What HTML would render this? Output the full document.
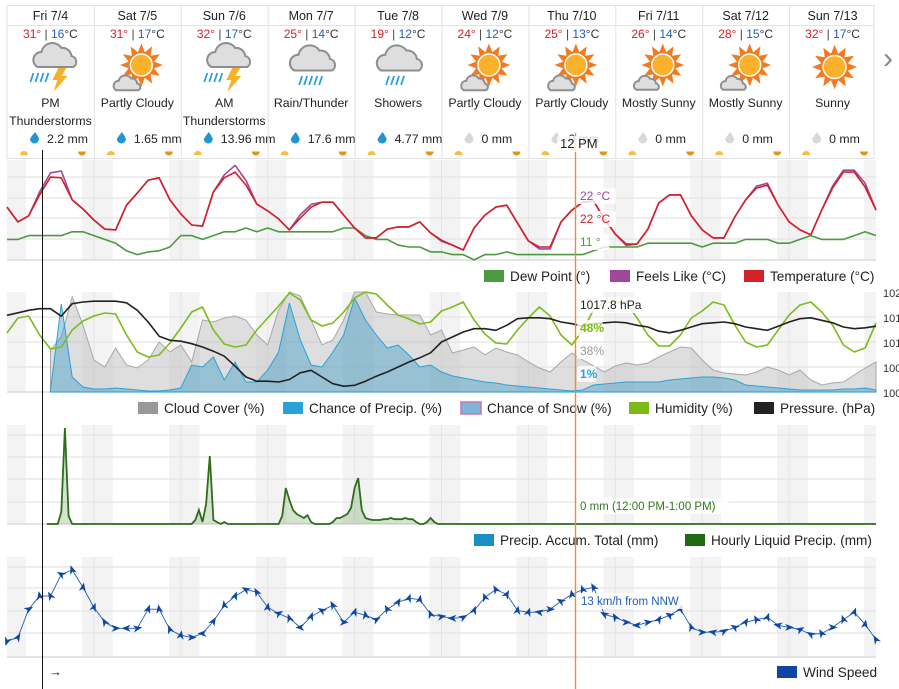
<!DOCTYPE html>
<html><head><meta charset="utf-8">
<style>
html,body{margin:0;padding:0;background:#fff;}
svg{display:block;font-family:"Liberation Sans",sans-serif;}
</style></head>
<body>
<svg id="root" width="899" height="689" viewBox="0 0 899 689" xmlns="http://www.w3.org/2000/svg"></svg>
<script>
// ---------- DATA ----------
const dayLabels = ["Fri 7/4","Sat 7/5","Sun 7/6","Mon 7/7","Tue 7/8","Wed 7/9","Thu 7/10","Fri 7/11","Sat 7/12","Sun 7/13"];
const dayHighs = [31,31,32,25,19,24,25,26,28,32];
const dayLows = [16,17,17,14,12,12,13,14,15,17];
const dayDescs = [["PM","Thunderstorms"],["Partly Cloudy"],["AM","Thunderstorms"],["Rain/Thunder"],["Showers"],["Partly Cloudy"],["Partly Cloudy"],["Mostly Sunny"],["Mostly Sunny"],["Sunny"]];
const dayPrecip = ["2.2","1.65","13.96","17.6","4.77","0","0","0","0","0"];
const dayIcons = ["tstorm","pcloudy","tstorm","rain","showers","pcloudy","pcloudy","msunny","msunny","sunny"];

// 3-hourly series, starting Fri 7/4 00:00
const temperature = [22.5,18.6,20.2,25.7,30.4,30.2,24.4,22,19.1,16.7,16.5,23,26.2,29.6,30.2,24.4,20.7,17.8,17.5,26.5,30.2,31.7,28.3,23.3,21.5,19.4,16.5,19.6,22.5,23.8,23.8,20.4,17,14.4,14.4,16.7,17.3,17.3,18.6,15.7,13.8,12.5,11.2,17,20.4,22.5,23,18.3,13.6,12,12,18.6,21.7,23.8,24.1,19.4,15.4,12.8,12.8,16.7,23.6,25.7,25.7,20.2,16.5,14.4,14.4,19.9,24.4,27.5,28.3,23,18.6,16.5,15.2,21.7,27.5,31.7,31.7,27.8,21.7];
const feelsLike = [22.5,18.6,20.2,26.5,31.5,32,24.4,22,19.1,16.7,16.5,23,26.2,29.6,30.2,24.4,20.7,17.8,17.5,26.5,31,33.5,29.5,23.3,21.5,19.4,16.5,20.5,23.2,23.8,23.8,20.4,17,14.4,14.4,16.7,17.3,17.3,18.6,15.7,13.5,12.5,11.2,17,20.4,22.5,23,18.3,13.6,11.5,11.5,18.6,21.7,23.8,24.1,19.4,15.4,12.4,12.8,16.7,23.6,25.7,25.7,20.2,16.5,14.4,14.4,19.9,24.4,28,28.8,23,18.6,16.5,15.2,21.7,28,32.2,32.2,28.8,21.7];
const dewPoint = [14,14,15,15,15,15,16,16,15,14,13,11,10,10.7,11,12,15,15,14,15,16,16,17,16,17,16,16,16,16,16,16,17,17,15,14,14,12.5,12,12,10.7,10.7,10,10,8.6,10,10,10.7,10,10,10,10,10,10,10,11,12,12,12,12,13,13,13,13,13,12,13,13,13,14,14,14,13,13,14,15,14,14,14,15,16,15];
const humidity = [59,74,76,57,43,45,62,71,76,79,78,57,40,35,37,49,64,80,85,62,48,45,47,62,74,86,99,92,72,66,69,80,94,100,98,87,77,73,68,70,81,85,90,72,58,49,48,62,74,85,76,57,47,62,82,90,90,90,74,57,46,46,57,74,81,90,87,67,50,45,47,62,77,87,90,80,67,47,40,44,69];
const cloudCover = [0,0,0,0,42,55,95,67,32,25,44,27,24,32,50,40,47,30,72,70,74,76,72,57,47,82,100,96,72,47,52,72,100,100,80,78,77,77,77,57,62,39,42,45,37,44,40,37,30,24,20,30,39,32,26,20,26,29,27,29,35,40,45,44,32,22,19,18,17,20,25,22,17,22,12,7,9,10,17,24,30];
const precipChance = [0,0,0,0,2,88,15,5,3,3,4,3,2,1,1,2,4,27,25,35,12,30,10,10,22,40,89,52,27,25,40,57,94,72,57,44,47,37,25,27,20,16,14,12,10,9,7,6,5,4,3,2,1,2,7,8,9,10,10,10,10,12,13,14,15,15,14,12,7,6,5,4,3,2,2,2,2,3,3,4,2];
const pressure = [1018.7,1019,1019.3,1019.5,1019.5,1018.6,1020.1,1020.3,1020.4,1020.4,1020.4,1020.2,1019.3,1017.9,1016.2,1015.7,1015.6,1015.3,1014.9,1014.4,1013.8,1012.6,1011.3,1010.8,1010.8,1010.7,1011,1011.8,1012.1,1011.3,1010.5,1010.2,1010.3,1010.8,1011.4,1011.9,1012.5,1013.1,1013.6,1014.2,1015.5,1016.1,1016.7,1017.1,1017.1,1016.9,1017.5,1018.3,1018.4,1018.4,1018.3,1017.9,1017.7,1017.4,1017.7,1017.8,1017.9,1017.8,1017.5,1017.3,1016.8,1016.6,1016.9,1017.3,1017.7,1017.8,1017.9,1017.7,1017.3,1017.1,1016.9,1017.4,1017.9,1018.3,1018.4,1018.1,1017.8,1017.3,1017.1,1017.2,1017.4];
const windSpeed = [0.6,1.5,8,11,11,16,17,13,8.4,5,3.6,3.6,3.6,8,8,3.3,2,1.5,2.4,5.2,8.9,11,12.5,11.9,8.4,7,5.9,3.8,6.3,7.7,8.9,5,7.3,6.6,5.6,8,9.6,10.5,10.2,6.8,6.3,5.9,6.1,7.7,10.7,12.5,11.4,7.7,7.3,7.3,8,9.8,11.4,12.5,13,6.8,6.1,5,4.3,5,5.6,6.6,8,3.8,2.7,2.7,2.9,3.8,5,5.6,6.1,4.3,3.8,3.3,2.2,2.4,3.8,5.6,7.3,4.5,1];
const windDir = [200,30,60,350,330,300,340,10,20,330,90,270,80,20,350,340,10,90,270,30,350,20,300,330,10,60,340,270,20,300,330,90,20,350,60,330,30,20,10,340,80,270,60,20,340,330,30,10,20,280,90,300,350,340,330,300,330,90,270,80,30,300,20,340,90,280,60,300,30,330,20,280,90,60,300,330,90,340,20,10,330];
const precipHours = [15,16,17,52,53,54,55,56,57,58,60,76,77,78,79,80,81,82,83,84,90,91,92,93,94,95,96,97,98,99,100,101,102,103,104,105,106,107,108,109,110,111,112,113,116,117,118];
const precipAmounts = [0.3,2.4,0.2,0.1,0.35,0.05,0.5,1.7,0.1,0.05,0.05,0.2,0.9,0.6,0.35,0.25,0.2,0.15,0.22,0.05,0.05,0.15,0.15,0.2,0.25,0.4,0.9,1.15,0.35,0.15,0.12,0.1,0.1,0.1,0.12,0.12,0.15,0.12,0.12,0.12,0.15,0.12,0.12,0.05,0.05,0.15,0.05];
const pressureTicks = ["102","101","101","100","100"];

// ---------- SCALES ----------
const svg = document.getElementById('root');
const NS = "http://www.w3.org/2000/svg";
const X0 = 7, X1 = 876, STEP = 3;
function xH(h){ return X0 + h*(X1-X0)/240; }
function yT(t){ return 171 + (32-t)*3.8; }
function yPct(p){ return 392 - p; }
function yP(p){ return 392 - (p-1009.5)*100/12; }
function yR(mm){ return 524 - mm*40; }
function yW(v){ return 657 - (v+3)*100/23; }

function mk(tag, attrs, parent){
  const e = document.createElementNS(NS, tag);
  for (const k in attrs) e.setAttribute(k, attrs[k]);
  (parent||svg).appendChild(e);
  return e;
}
function txt(s, attrs, parent){
  const e = mk('text', attrs, parent);
  e.textContent = s;
  return e;
}
function linePts(arr, yf){ return arr.map((v,i)=>xH(i*STEP).toFixed(1)+","+yf(v).toFixed(1)).join(" "); }

// ---------- HEADER ----------
const CW = (X1-X0)/10;
const hdr = mk('g', {});


const hb = mk('rect',{x:X0,y:5.5,width:X1-X0-2,height:153,fill:'#fff',stroke:'#e2e2e2'},hdr);


mk('line',{x1:X0,y1:25.5,x2:X1-2,y2:25.5,stroke:'#e2e2e2'},hdr);

function cloud(g, cx, cy, s){
  const p = mk('path',{d:"M-18,10 A8,8 0 0 1 -14,-5 A11,11 0 0 1 6,-9 A9,9 0 0 1 16,-1 A6,6 0 0 1 18,10 Z",
    transform:`translate(${cx},${cy}) scale(${s})`, fill:'#dedede', stroke:'#8e8e8e','stroke-width':2/s},g);
  
  
}
function sun(g, cx, cy, r){
  let pts=[];
  for(let i=0;i<24;i++){ const a=i*Math.PI/12 - Math.PI/2; const rr = i%2===0 ? r*1.95 : r*1.2; pts.push((cx+rr*Math.cos(a)).toFixed(1)+","+(cy+rr*Math.sin(a)).toFixed(1)); }
  const st = mk('polygon',{points:pts.join(" "),fill:'#f47a20'},g);
  
  
  const c = mk('circle',{cx:cx,cy:cy,r:r,fill:'#fbb12b',stroke:'#fff','stroke-width':1.5},g);
  
  
}
function rain(g, x, y, n){
  for(let i=0;i<n;i++){
    const l = mk('line',{x1:x+i*5+3,y1:y,x2:x+i*5,y2:y+9,stroke:'#2a9fdc','stroke-width':1.8},g);
    
    
  }
}
function bolt(g, x, y){
  const b = mk('polygon',{points:`${x+8},${y} ${x+16},${y} ${x+11},${y+8} ${x+17},${y+8} ${x+3},${y+24} ${x+7},${y+12} ${x+2},${y+12}`,fill:'#f6b126'},g);
  
  
}

for(let i=0;i<10;i++){
  const x = X0 + i*CW, cx = x + CW/2;
  const col = mk('g',{},hdr);
  
  
  if(i>0){ mk('line',{x1:x+0.5,y1:5.5,x2:x+0.5,y2:158.5,stroke:'#e2e2e2'},col); }
  const d = txt(dayLabels[i],{x:cx,y:20,'text-anchor':'middle','font-size':12.5,fill:'#222'},col);
  
  
  const t = txt('',{x:cx,y:38,'text-anchor':'middle','font-size':12,fill:'#333'},col);
  
  
  const t1 = mk('tspan',{fill:'#d42027'},t); t1.textContent = dayHighs[i]+"°";
  const t2 = mk('tspan',{fill:'#444'},t); t2.textContent = " | ";
  const t3 = mk('tspan',{fill:'#1f5fb5'},t); t3.textContent = dayLows[i];
  const t4 = mk('tspan',{fill:'#333'},t); t4.textContent = "°C";
  const ic = mk('g',{},col);
  
  
  const k = dayIcons[i];
  if(k==='tstorm'){ cloud(ic,cx+5,57,1); rain(ic,cx-20,73,4); bolt(ic,cx,68); }
  else if(k==='rain'||k==='showers'){ cloud(ic,cx+2,60,1.05); rain(ic,cx-12,76,k==='rain'?5:4); }
  else if(k==='pcloudy'){ sun(ic,cx+4,65,11); cloud(ic,cx-10,84,0.62); }
  else if(k==='msunny'){ sun(ic,cx+4,65,11); cloud(ic,cx-12,84,0.58); }
  else { sun(ic,cx+2,67,11.5); }
  dayDescs[i].forEach((ln,j)=>{
    const e = txt(ln,{x:cx,y:107+j*18,'text-anchor':'middle','font-size':12.3,fill:'#222'},col);
    
    
  });
  const wet = parseFloat(dayPrecip[i])>0;
  const dx = x+23;
  const drop = mk('path',{d:`M${dx+5},${132} Q${dx+1},${137} ${dx},${139} A4.5,4.5 0 1 0 ${dx+9},${139} Q${dx+8},${136} ${dx+5},${132} Z`,fill:wet?'#1f95d3':'#d8d8d8'},col);
  
  
  const pm = txt(dayPrecip[i]+" mm",{x:dx+17,y:143,'font-size':12.3,fill:'#222'},col);
  
  
  const sr = mk('path',{d:`M${x+13},155 a4,4 0 0 1 8,0 z`,fill:'#f9bd45'},col);
  
  
  const ss = mk('path',{d:`M${x+71},151.5 a4,4 0 0 0 8,0 z`,fill:'#e0951c'},col);
  
  
}
const nx = txt("›",{x:888,y:68,'text-anchor':'middle','font-size':30,fill:'#888'});



// ---------- PANEL FRAMES ----------
function panel(name, y0, y1, grid){
  const g = mk('g',{});
  
  
  for(let d=0; d<=10; d++){
    const a = Math.max(0, 24*d-3.3), b = Math.min(240, 24*d+5.2);
    if(b>a){ const r = mk('rect',{x:xH(a),y:y0,width:xH(b)-xH(a),height:y1-y0,fill:'#f3f3f3'},g);
      
       }
  }
  for(let d=1; d<10; d++) mk('line',{x1:xH(24*d),y1:y0,x2:xH(24*d),y2:y1,stroke:'#e4e4e4'},g);
  grid.forEach(gy=>mk('line',{x1:X0,y1:gy,x2:X1,y2:gy,stroke:'#e4e4e4','stroke-width':1.2},g));
  mk('line',{x1:X0,y1:y1,x2:X1,y2:y1,stroke:'#dcdcdc','stroke-width':1.5},g);
  return g;
}
function legend(items, y){
  items.forEach(it=>{
    const g = mk('g',{});
    
    
    mk('rect',{x:it[0],y:y-6,width:20,height:12,fill:it[2],stroke:it[3]||'none','stroke-width':1.5},g);
    txt(it[1],{x:it[0]+26,y:y+5,'font-size':13.6,fill:'#222'},g);
  });
}
function series(name, arr, yf, stroke, w){
  const p = mk('polyline',{points:linePts(arr,yf),fill:'none',stroke:stroke,'stroke-width':w,'stroke-linejoin':'round'});
  
  
  return p;
}
function area(name, arr, yf, y1, fill, stroke, startIdx){
  const s = startIdx||0;
  let pts = xH(s*STEP)+","+y1+" ";
  for(let i=s;i<arr.length;i++) pts += xH(i*STEP).toFixed(1)+","+yf(arr[i]).toFixed(1)+" ";
  pts += xH((arr.length-1)*STEP)+","+y1;
  const p = mk('polygon',{points:pts,fill:fill,stroke:stroke,'stroke-width':1});
  
  
}

// Temperature panel
panel('temperature-panel',160,260,[177,198,218,239]);
series('dew-point-line',dewPoint,yT,'#4c9a3f',1.6);
series('feels-like-line',feelsLike,yT,'#a0479a',1.6);
series('temperature-line',temperature,yT,'#d42027',1.6);
legend([[484,"Dew Point (°)","#4c9a3f"],[610,"Feels Like (°C)","#a0479a"],[744,"Temperature (°C)","#d42027"]],276);

// Humidity / cloud / pressure panel
panel('humidity-panel',292,392,[317,342,367]);
area('cloud-cover-area',cloudCover,yPct,392,'rgba(190,190,190,0.5)','#a8a8a8',4);
area('precip-chance-area',precipChance,yPct,392,'rgba(66,160,200,0.45)','#2aa1d8',4);
series('humidity-line',humidity,yPct,'#7dbb1b',1.6);
series('pressure-line',pressure,yP,'#222',1.6);
pressureTicks.forEach((s,i)=>{
  const e = txt(s,{x:883,y:297+i*25,'font-size':11,fill:'#333'});
  
  
});
legend([[138,"Cloud Cover (%)","#999"],[283,"Chance of Precip. (%)","#2aa1d8"],[461,"Chance of Snow (%)","#7fb5d6","#c774b8"],[629,"Humidity (%)","#7dbb1b"],[754,"Pressure. (hPa)","#222"]],408);

// Precip panel
panel('precip-panel',425,524,[435,457,479,502]);
(function(){
  const hourly = {};
  precipHours.forEach((h,i)=>{ hourly[h]=precipAmounts[i]; });
  let pts = xH(11)+",524 ";
  for(let h=11; h<=240; h++) pts += xH(h).toFixed(1)+","+yR(hourly[h]||0).toFixed(1)+" ";
  const a = mk('polygon',{points:pts+xH(240)+",524",fill:'rgba(60,130,40,0.22)',stroke:'none'});
  
  
  const l = mk('polyline',{points:pts.trim().split(" ").slice(1).join(" "),fill:'none',stroke:'#2e6d1a','stroke-width':1.8});
  
  
})();
legend([[474,"Precip. Accum. Total (mm)","#1a8fc6"],[685,"Hourly Liquid Precip. (mm)","#1f6b12"]],540);

// Wind panel
panel('wind-panel',557,657,[567,588,611,633]);
series('wind-speed-line',windSpeed,yW,'#1f5fb5',0.9);
windSpeed.forEach((v,i)=>{
  const x = xH(i*STEP), y = yW(v);
  const m = mk('polygon',{points:"0,-5 3.5,4 0,1.5 -3.5,4",fill:'#0d47a1',transform:`translate(${x.toFixed(1)},${y.toFixed(1)}) rotate(${windDir[i]})`});
  
  
});
legend([[777,"Wind Speed","#0d47a1"]],672);
const wa = txt("→",{x:49,y:676,'font-size':13,fill:'#222'});



// ---------- CURSOR LINES & TOOLTIPS ----------
const nowL = mk('line',{x1:42.5,y1:150,x2:42.5,y2:689,stroke:'#111','stroke-width':1});


const hov = mk('line',{x1:575.5,y1:133,x2:575.5,y2:689,stroke:'#f58a2a','stroke-width':1.4});


function tip(s, x, y, color, bold, size){
  const w = s.length*(size||12)*0.55+6;
  const g = mk('g',{});
  
  
  mk('rect',{x:x-3,y:y-12,width:w,height:16,fill:'rgba(255,255,255,0.8)',rx:2},g);
  txt(s,{x:x,y:y,'font-size':size||12,fill:color,'font-weight':bold?'bold':'normal'},g);
}
tip("12 PM",560,148,'#222',false,13);
tip("22 °C",580,200,'#a0479a');
tip("22 °C",580,223,'#d42027');
tip("11 °",580,246,'#4c9a3f');
tip("1017.8 hPa",580,309,'#222');
tip("48%",580,332,'#7dbb1b',true);
tip("38%",580,355,'#999');
tip("1%",580,378,'#2aa1d8',true);
tip("0 mm (12:00 PM-1:00 PM)",580,510,'#2e7d1a',false,11.5);
tip("13 km/h from NNW",581,605,'#1f5fb5',false,11.5);
</script>
</body></html>
